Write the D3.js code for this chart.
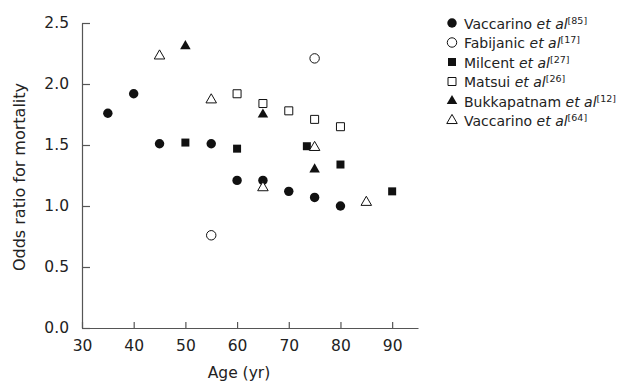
<!DOCTYPE html>
<html>
<head>
<meta charset="utf-8">
<script src="https://cdn.jsdelivr.net/npm/d3@7"></script>
<style>
  body { margin: 0; background: #fff; }
  text { font-family: "DejaVu Sans", Verdana, sans-serif; fill: #222; }
</style>
</head>
<body>
<svg id="chart" width="626" height="384"></svg>
<script>
// series data: [age, odds ratio]
var vaccarino85 = [[35, 1.76], [40, 1.92], [45, 1.51], [55, 1.51], [60, 1.21], [65, 1.21], [70, 1.12], [75, 1.07], [80, 1.0]];
var fabijanic = [[55, 0.76], [75, 2.21]];
var milcent = [[50, 1.52], [60, 1.47], [73.5, 1.49], [80, 1.34], [90, 1.12]];
var matsui = [[60, 1.92], [65, 1.84], [70, 1.78], [75, 1.71], [80, 1.65]];
var bukkapatnam = [[50, 2.31], [65, 1.75], [75, 1.30]];
var vaccarino64 = [[45, 2.23], [55, 1.87], [65, 1.15], [75, 1.48], [85, 1.03]];

var xTicks = [30, 40, 50, 60, 70, 80, 90];
var yTicks = [0, 0.5, 1.0, 1.5, 2.0, 2.5];

var seriesNames = ["Vaccarino", "Fabijanic", "Milcent", "Matsui", "Bukkapatnam", "Vaccarino"];
var seriesRefs = ["85", "17", "27", "26", "12", "64"];
var seriesShapes = ["circle", "circle", "square", "square", "triangle", "triangle"];
var seriesFilled = [true, false, true, false, true, false];
var seriesData = [vaccarino85, fabijanic, milcent, matsui, bukkapatnam, vaccarino64];

var svg = d3.select("#chart");

var x = d3.scaleLinear().domain([30, 95]).range([82, 418]);
var y = d3.scaleLinear().domain([0, 2.5]).range([328, 23]);

// symbol generator
var symbolFor = {
  circle: d3.symbol().type(d3.symbolCircle).size(70),
  square: d3.symbol().type(d3.symbolSquare).size(64),
  triangle: d3.symbol().type(d3.symbolTriangle).size(48)
};

// axes
var xAxis = svg.append("g")
  .attr("transform", "translate(0," + y(0) + ")")
  .call(d3.axisBottom(x).tickValues(xTicks).tickSizeInner(-6).tickSizeOuter(0).tickPadding(12));
var yAxis = svg.append("g")
  .attr("transform", "translate(" + x(30) + ",0)")
  .call(d3.axisLeft(y).tickValues(yTicks).tickFormat(d3.format(".1f")).tickSizeInner(-8).tickSizeOuter(0).tickPadding(13));

svg.selectAll(".domain").attr("stroke", "#555").attr("stroke-width", 1.2);
svg.selectAll(".tick line").attr("stroke", "#555").attr("stroke-width", 1.2);
svg.selectAll(".tick text").attr("font-size", 15.5).attr("fill", "#222")
  .style("font-family", "'DejaVu Sans', Verdana, sans-serif");

// axis titles
svg.append("text")
  .attr("x", 239).attr("y", 378)
  .attr("text-anchor", "middle").attr("font-size", 15.5)
  .text("Age (yr)");
svg.append("text")
  .attr("transform", "translate(25,177) rotate(-90)")
  .attr("text-anchor", "middle").attr("font-size", 16)
  .text("Odds ratio for mortality");

// points
seriesData.forEach(function (data, i) {
  svg.append("g").selectAll("path")
    .data(data)
    .join("path")
    .attr("d", symbolFor[seriesShapes[i]])
    .attr("transform", function (d) { return "translate(" + x(d[0]) + "," + y(d[1]) + ")"; })
    .attr("fill", seriesFilled[i] ? "#111" : "#fff")
    .attr("stroke", "#111")
    .attr("stroke-width", seriesFilled[i] ? 0 : 1);
});

// legend
var legend = svg.append("g").attr("transform", "translate(452,23)");
var rows = legend.selectAll("g")
  .data(seriesNames)
  .join("g")
  .attr("transform", function (d, i) { return "translate(0," + (i * 19.5) + ")"; });

rows.append("path")
  .attr("d", function (d, i) { return symbolFor[seriesShapes[i]](); })
  .attr("fill", function (d, i) { return seriesFilled[i] ? "#111" : "#fff"; })
  .attr("stroke", "#111")
  .attr("stroke-width", function (d, i) { return seriesFilled[i] ? 0 : 1; });

var lt = rows.append("text")
  .attr("x", 12).attr("y", 5.5)
  .attr("font-size", 14);
lt.append("tspan").text(function (d) { return d + " "; });
lt.append("tspan").attr("font-style", "italic").text("et al");
lt.append("tspan").attr("font-size", 9.5).attr("dy", -5)
  .text(function (d, i) { return "[" + seriesRefs[i] + "]"; });
</script>
</body>
</html>
